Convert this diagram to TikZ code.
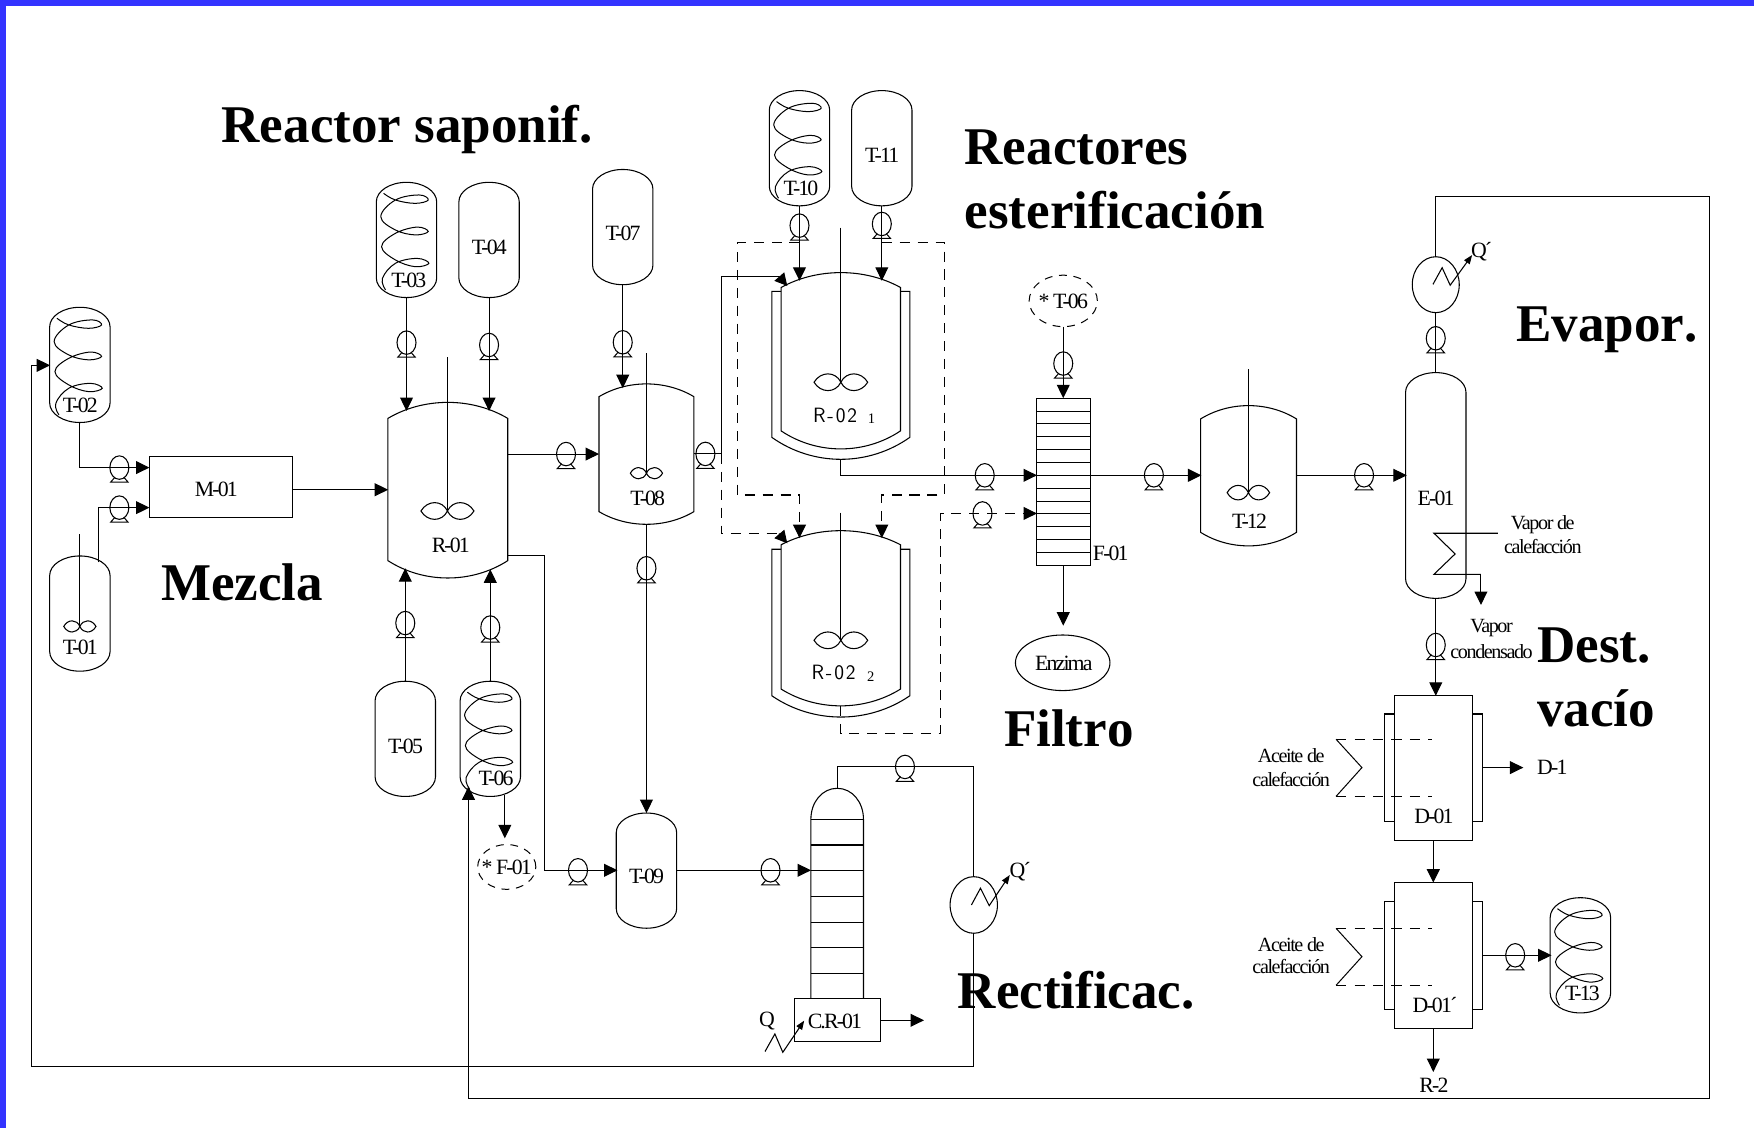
\documentclass[tikz,border=0pt]{standalone}
\usepackage{fontspec}
\setmainfont{Liberation Serif}
\usetikzlibrary{arrows.meta,shapes.geometric,calc}
\newfontfamily\labfam[LetterSpace=-8.5]{Liberation Serif}
\newfontfamily\smfam[LetterSpace=-7]{Liberation Serif}
\newfontfamily\titfam[Kerning=Off]{Liberation Serif}
\newfontfamily\cadfam[LetterSpace=9]{Latin Modern Sans}
\newcommand\labf{\labfam\fontsize{19.5}{20}\selectfont}
\newcommand\smf{\smfam\fontsize{18}{19}\selectfont}
\newcommand\titf{\titfam\bfseries\fontsize{47.4}{50}\selectfont}
\newcommand\cadf{\cadfam\fontsize{18.5}{20}\selectfont}
\definecolor{frameblue}{RGB}{51,51,255}
\tikzset{
 eqline/.style={draw=black,line width=.95pt},
 anchorbox/.style={rectangle,draw=none,inner sep=0pt,outer sep=0pt},
 pipe/.style={draw=black,line width=.95pt},
 pipeA/.style={pipe,-{Triangle[length=12pt,width=11.5pt]}},
 headA/.style={pipe,solid,-{Triangle[length=11pt,width=11.5pt]}},
 dashpipe/.style={pipe,dash pattern=on 9pt off 7pt},
 dashA/.style={dashpipe,-{Triangle[length=12pt,width=11.5pt]}},
 smallA/.style={pipe,-{Triangle[length=8pt,width=6pt]}},
 pumpn/.style={ellipse,draw=black,line width=.95pt,minimum width=17pt,minimum height=21pt,inner sep=0pt,outer sep=0pt},
 hx/.style={ellipse,draw=black,line width=.95pt,inner sep=0pt,outer sep=0pt},
 dashcirc/.style={ellipse,draw=black,line width=.9pt,dash pattern=on 7pt off 6pt,inner sep=0pt,outer sep=0pt},
 boxn/.style={rectangle,draw=black,line width=.95pt,inner sep=0pt,outer sep=0pt},
 lab/.style={font=\labf,inner sep=0pt,yshift=-.8pt},
 labs/.style={font=\smf,inner sep=0pt,yshift=-.8pt},
 cad/.style={font=\cadf,inner sep=0pt},
 tiny/.style={font=\rmfamily\fontsize{13}{14}\selectfont,inner sep=0pt},
 titlet/.style={font=\titf,inner sep=0pt,anchor=base west},
}
% capsule vessel: name, cx, top, w, h, cap
\newcommand\capsule[6]{%
 \pgfmathsetmacro\vxL{#2-#4/2}\pgfmathsetmacro\vxR{#2+#4/2}
 \pgfmathsetmacro\vyB{#3+#5}\pgfmathsetmacro\vyM{#3+#5/2}
 \pgfmathsetmacro\vkx{#4/2*0.5523}\pgfmathsetmacro\vky{#6*0.4477}
 \node[anchorbox,minimum width=#4pt,minimum height=#5pt] (#1) at (#2,\vyM) {};
 \draw[eqline] (\vxL,{#3+#6}) .. controls (\vxL,{#3+\vky}) and ({#2-\vkx},#3) .. (#2,#3)
  .. controls ({#2+\vkx},#3) and (\vxR,{#3+\vky}) .. (\vxR,{#3+#6})
  -- (\vxR,{\vyB-#6}) .. controls (\vxR,{\vyB-\vky}) and ({#2+\vkx},\vyB) .. (#2,\vyB)
  .. controls ({#2-\vkx},\vyB) and (\vxL,{\vyB-\vky}) .. (\vxL,{\vyB-#6}) -- cycle;
}
% dished reactor: name, xl, xr, apex, shoulderT, shoulderB, bottom
\newcommand\reactor[7]{%
 \pgfmathsetmacro\vw{#3-#2}\pgfmathsetmacro\vcx{(#2+#3)/2}\pgfmathsetmacro\vcy{(#4+#7)/2}
 \pgfmathsetmacro\vh{#7-#4}
 \pgfmathsetmacro\vtop{#5-(#5-#4)/0.75}\pgfmathsetmacro\vbot{#6+(#7-#6)/0.75}
 \node[anchorbox,minimum width=\vw pt,minimum height=\vh pt] (#1) at (\vcx,\vcy) {};
 \draw[eqline] (#2,#5) .. controls ({#2+.3*\vw},\vtop) and ({#3-.3*\vw},\vtop) .. (#3,#5)
  -- (#3,#6) .. controls ({#3-.3*\vw},\vbot) and ({#2+.3*\vw},\vbot) .. (#2,#6) -- cycle;
}
% shaft + impeller: cx, shaft top, cy, half width, half height
\newcommand\impeller[5]{%
 \draw[eqline] (#1,#2) -- (#1,#3);
 \draw[eqline] (#1,#3) .. controls ({#1+.2*#4},{#3-1.33*#5}) and ({#1+.75*#4},{#3-1.33*#5}) .. ({#1+#4},#3)
   .. controls ({#1+.75*#4},{#3+1.33*#5}) and ({#1+.2*#4},{#3+1.33*#5}) .. (#1,#3)
   .. controls ({#1-.2*#4},{#3-1.33*#5}) and ({#1-.75*#4},{#3-1.33*#5}) .. ({#1-#4},#3)
   .. controls ({#1-.75*#4},{#3+1.33*#5}) and ({#1-.2*#4},{#3+1.33*#5}) .. (#1,#3);
}
% pump: name, x, y
\newcommand\pump[3]{%
 \node[pumpn] (#1) at (#2,#3) {};
 \draw[eqline,line width=.9pt] ([xshift=-4pt,yshift=-8.7pt]#1.center) -- ([xshift=-7.8pt,yshift=-13pt]#1.center)
   -- ([xshift=7.8pt,yshift=-13pt]#1.center) -- ([xshift=4pt,yshift=-8.7pt]#1.center);
}
% coil inside a tank: cx, top
\newcommand\coil[2]{%
 \begin{scope}[shift={(#1,#2)}]
 \draw[eqline,line width=.9pt] plot[smooth,tension=.65] coordinates {(-20.5,9.8)(-9.9,15.8)(7.8,18.8)(19.4,15.8)(11.3,11.3)(-9.9,15.8)(-23,30.7)(-9.9,42.6)(7.8,47)(19.4,44)(9.5,40)(-9.9,45.6)(-22.3,57.5)(-9.9,69.4)(7.8,75.4)(20,72.4)(9.5,68)(-9.9,72.4)(-21.5,85.8)(-18.7,96.2)};
 \end{scope}
}
% jacket: xl, xr, inner xl, inner xr, top, shoulder, bottom
\newcommand\jacket[7]{%
 \pgfmathsetmacro\vw{#2-#1}\pgfmathsetmacro\vbot{#6+(#7-#6)/0.75}
 \draw[eqline] (#3,#5) -- (#1,#5) -- (#1,#6) .. controls ({#1+.3*\vw},\vbot) and ({#2-.3*\vw},\vbot) .. (#2,#6) -- (#2,#5) -- (#4,#5);
}
\begin{document}
\begin{tikzpicture}[x=1pt,y=-1pt]
\useasboundingbox (0,0) rectangle (1568,1008);
\fill[white] (0,0) rectangle (1568,1008);
\fill[frameblue] (0,0) rectangle (1568,5.2);
\fill[frameblue] (0,0) rectangle (5.4,1008);

% ---------- vessels ----------
\capsule{T02}{71.4}{274.7}{54}{103}{17.5}\coil{71.4}{274.7}
\capsule{T01}{71.4}{497}{54}{103}{17.5}
\capsule{T03}{363.4}{163}{54}{103}{17.5}\coil{363.4}{163}
\capsule{T04}{437.2}{163}{54}{103}{17.5}
\capsule{T05}{362.3}{609}{54}{103}{17.5}
\capsule{T06}{438.3}{609}{54}{103}{17.5}\coil{438.3}{609}
\capsule{T07}{556.7}{151.5}{54}{103}{17.5}
\capsule{T09}{577.9}{726.8}{54}{103}{17.5}
\capsule{T10}{714.7}{81}{54}{103}{17.5}\coil{714.7}{81}
\capsule{T11}{788.3}{81}{54}{103}{17.5}
\capsule{T13}{1412.8}{802.5}{54}{103}{17.5}\coil{1412.8}{802.5}
\capsule{E01}{1283.5}{333.1}{54}{201.8}{17.5}

\reactor{R01}{346.8}{453.9}{359.7}{374}{501.2}{516.7}
\impeller{400}{319.4}{456.8}{23.7}{7.5}
\reactor{T08}{535.5}{620.3}{343.2}{354.6}{457.4}{468.7}
\impeller{577.9}{315.8}{423}{14.4}{5}
\impeller{71.4}{477.4}{560}{14.4}{5}
\reactor{T12}{1073.3}{1159}{362.6}{374.5}{475.9}{488}
\impeller{1116}{329.9}{440.4}{19}{6.5}

\reactor{R021}{698.3}{805}{243.7}{257}{385.2}{401.3}
\jacket{690}{813.3}{698.3}{805}{260.4}{391}{410.6}
\impeller{751.7}{203.5}{341.7}{24}{7.5}
\reactor{R022}{698.3}{805}{474.4}{487}{616}{631}
\jacket{690}{813.3}{698.3}{805}{491}{622}{641}
\impeller{751.7}{458.3}{572.4}{24}{7.5}

\node[boxn,minimum width=128pt,minimum height=54.8pt] (M01) at (197.6,435.1) {};

% filter
\node[boxn,minimum width=47.9pt,minimum height=149.4pt] (F01) at (950.5,430.7) {};
\foreach \k in {1,...,12}{\draw[eqline] (926.5,{356+\k*11.49}) -- (974.4,{356+\k*11.49});}
\node[dashcirc,minimum width=61pt,minimum height=46pt] (sT06) at (950.5,269) {};
\node[lab] (lsT06) at (950.5,268.5) {* T-06};
\node[dashcirc,minimum width=52pt,minimum height=40pt] (sF01) at (453,775) {};
\node[lab] (lsF01) at (453,775) {* F-01};
\node[hx,minimum width=84.5pt,minimum height=49.7pt] (Enz) at (950,592.5) {};
\node[lab] (lEnz) at (951,592.5) {Enzima};

% column
\draw[eqline] (724.9,893) -- (724.9,732.4) .. controls (724.9,717) and (735,704.7) .. (748.4,704.7) .. controls (761.8,704.7) and (771.9,717) .. (771.9,732.4) -- (771.9,893);
\foreach \yy in {732.4,755.4,778.3,801.3,824.5,847.2,870.1}{\draw[eqline] (724.9,\yy) -- (771.9,\yy);}
\node[boxn,minimum width=77pt,minimum height=38.2pt] (CR01) at (748.5,912.1) {};

% distillers
\node[boxn,minimum width=70.1pt,minimum height=129.9pt] (D01) at (1281.3,686.3) {};
\node[boxn,minimum width=70.1pt,minimum height=130.3pt] (D02) at (1281.3,854.2) {};
\draw[eqline] (1246.2,638.3) -- (1237.7,638.3) -- (1237.7,734.2) -- (1246.2,734.2);
\draw[eqline] (1316.4,638.3) -- (1324.9,638.3) -- (1324.9,734.2) -- (1316.4,734.2);
\draw[eqline] (1246.2,806.3) -- (1237.7,806.3) -- (1237.7,902.3) -- (1246.2,902.3);
\draw[eqline] (1316.4,806.3) -- (1324.9,806.3) -- (1324.9,902.3) -- (1316.4,902.3);
\draw[eqline,line width=.9pt] (1194.4,660.9) -- (1217.5,686.2) -- (1194.4,711.9);
\draw[eqline,line width=.9pt] (1194.4,829.9) -- (1217.5,855.2) -- (1194.4,880.8);
\draw[eqline,line width=.9pt,dash pattern=on 9pt off 7.5pt] (1194.4,660.9) -- (1280.3,660.9);
\draw[eqline,line width=.9pt,dash pattern=on 9pt off 7.5pt] (1194.4,711.9) -- (1280.3,711.9);
\draw[eqline,line width=.9pt,dash pattern=on 9pt off 7.5pt] (1194.4,829.9) -- (1280.3,829.9);
\draw[eqline,line width=.9pt,dash pattern=on 9pt off 7.5pt] (1194.4,880.8) -- (1280.3,880.8);

% heat exchangers
\node[hx,minimum width=42.3pt,minimum height=50.6pt] (C1) at (870.5,809) {};
\node[hx,minimum width=42pt,minimum height=50pt] (C2) at (1283.5,254.5) {};

% ---------- pumps ----------
\pump{P02}{106.7}{418}
\pump{P01}{106.7}{453.8}
\pump{P03}{363.4}{306.3}
\pump{P04}{437.2}{308.4}
\pump{P05}{362.3}{557}
\pump{P06}{438.3}{561}
\pump{P08}{506}{405.9}
\pump{P09}{516.7}{778}
\pump{P07}{556.7}{306}
\pump{P10}{577.9}{508}
\pump{P11}{630.6}{405.8}
\pump{P12}{714.7}{201.7}
\pump{P13}{788.3}{200.2}
\pump{P14}{880.3}{424.9}
\pump{P15}{1031.5}{424.9}
\pump{P16}{878.3}{459}
\pump{P17}{950.5}{325}
\pump{P18}{1219.4}{424.9}
\pump{P19}{1283.5}{302.4}
\pump{P20}{809}{685.6}
\pump{P21}{688.8}{778}
\pump{P22}{1283.5}{576.6}
\pump{P23}{1354.5}{854}

% ---------- named connector points ----------
\coordinate (T01r) at (87.7,502.7);
\coordinate (M01a) at (133.6,418);
\coordinate (M01b) at (133.6,453.8);
\coordinate (M01c) at (261.6,437.8);
\coordinate (R01w) at (347,437.8);
\coordinate (R01t1) at (363.4,367.4);
\coordinate (R01t2) at (437.2,367.4);
\coordinate (R01b1) at (362.3,508);
\coordinate (R01b2) at (438.3,509);
\coordinate (R01e) at (453.9,405.9);
\coordinate (R01o) at (453.9,497);
\coordinate (Rc) at (486.8,778);
\coordinate (T08w) at (535.5,405.9);
\coordinate (T08n) at (556.7,347);
\coordinate (T08e) at (620.3,405.8);
\coordinate (T09w) at (552,778);
\coordinate (T09e) at (604.9,778);
\coordinate (J1) at (644.6,405.8);
\coordinate (R1k) at (696.4,247);
\coordinate (R1a) at (703.8,255.6);
\coordinate (R1b) at (714.7,251);
\coordinate (R1c) at (788.3,251);
\coordinate (R2k) at (696.4,477);
\coordinate (R2a) at (703.8,485.7);
\coordinate (R2b) at (714.7,481);
\coordinate (R2c) at (788.3,481);
\coordinate (D1) at (714.7,217);
\coordinate (D1c) at (659,442.5);
\coordinate (D1e) at (714.7,442.5);
\coordinate (D2) at (788.3,217);
\coordinate (D2c) at (844.4,442.5);
\coordinate (D2e) at (788.3,442.5);
\coordinate (R1j) at (751.7,410.6);
\coordinate (F01a) at (927,424.9);
\coordinate (F01b) at (927,459);
\coordinate (F01e) at (974.4,424.9);
\coordinate (T12w) at (1074,424.9);
\coordinate (T12e) at (1159,424.9);
\coordinate (E01w) at (1257.6,424.9);
\coordinate (R2j) at (751.7,631);
\coordinate (Dd) at (841,655.6);
\coordinate (Enzt) at (950.5,559.3);
\coordinate (Rt) at (1527.9,175.8);
\coordinate (Rb) at (418.8,982);
\coordinate (T06r) at (418.8,703);
\coordinate (Lb) at (28.3,953.8);
\coordinate (T02in) at (44.8,326.6);
\coordinate (ColT) at (748.4,704.7);
\coordinate (Cola) at (725,778);
\coordinate (CRo) at (826,912.1);
\coordinate (D01t) at (1283.5,622);
\coordinate (D01r) at (1324.9,686.2);
\coordinate (D1o) at (1361.8,686.2);
\coordinate (D02r) at (1324.9,854);
\coordinate (T13w) at (1387,854);
\coordinate (R2o) at (1281.3,958.3);
\coordinate (T06o) at (451.3,710.7);
\coordinate (F01t) at (451.3,749.4);

% ---------- connectors ----------
\draw[pipeA] (T02.south) |- (P02.center) -- (M01a);
\draw[pipeA] (T01r) |- (P01.center) -- (M01b);
\draw[pipeA] (M01c) -- (R01w);
\draw[pipeA] (T03.south) -- (P03.center) -- (R01t1);
\draw[pipeA] (T04.south) -- (P04.center) -- (R01t2);
\draw[pipeA] (T05.north) -- (P05.center) -- (R01b1);
\draw[pipeA] (T06.north) -- (P06.center) -- (R01b2);
\draw[pipeA] (R01e) -- (P08.center) -- (T08w);
\draw[pipeA] (R01o) -| (Rc) -- (P09.center) -- (T09w);
\draw[pipeA] (T07.south) -- (P07.center) -- (T08n);
\draw[pipeA] (T08.south) -- (P10.center) -- (T09.north);
\draw[pipe] (T08e) -- (P11.center) -- (J1);
\draw[pipe] (J1) |- (R1k);
\draw[headA] (R1k) -- (R1a);
\draw[dashpipe] (J1) |- (R2k);
\draw[headA] (R2k) -- (R2a);
\draw[pipeA] (T10.south) -- (P12.center) -- (R1b);
\draw[pipeA] (T11.south) -- (P13.center) -- (R1c);
\draw[dashA] (D1) -| (D1c) -- (D1e) -- (R2b);
\draw[dashA] (D2) -| (D2c) -- (D2e) -- (R2c);
\draw[pipeA] (R1j) |- (P14.center) -- (F01a);
\draw[pipeA] (F01e) -- (P15.center) -- (T12w);
\draw[dashA] (R2j) |- (Dd) |- (P16.center) -- (F01b);
\draw[pipeA] (sT06.south) -- (P17.center) -- (F01.north);
\draw[pipeA] (F01.south) -- (Enzt);
\draw[pipeA] (T12e) -- (P18.center) -- (E01w);
\draw[pipe] (E01.north) -- (P19.center) -- (C2.south);
\draw[pipeA] (C2.north) |- (Rt) |- (Rb) -- (T06r);
\draw[pipeA] (C1.south) |- (Lb) |- (T02in);
\draw[pipe] (ColT) |- (P20.center) -| (C1.north);
\draw[pipeA] (T09e) -- (P21.center) -- (Cola);
\draw[pipeA] (CR01.east) -- (CRo);
\draw[pipeA] (E01.south) -- (P22.center) -- (D01t);
\draw[pipeA] (D01.south) -- (D02.north);
\draw[pipeA] (D02.south) -- (R2o);
\draw[pipeA] (D01r) -- (D1o);
\draw[pipeA] (D02r) -- (P23.center) -- (T13w);
\draw[pipeA] (T06o) -- (F01t);

% heating coil in evaporator and zigzags
\draw[pipe] (1339,476.7) -- (1281.9,476.7) -- (1300.8,495.2) -- (1281.9,513.4) -- (1323.9,513.4);
\draw[pipeA] (1323.9,513.4) -- (1323.9,540.8);
\draw[smallA] (868.4,809) -- (876.5,794) -- (884.3,809.6) -- (902.7,782.2);
\draw[smallA] (1281,254.2) -- (1289.2,239.3) -- (1296.4,255) -- (1316,228);
\draw[smallA] (683.9,940) -- (692.7,924.3) -- (699.8,940.7) -- (718.9,912.4);

% ---------- labels ----------
\node[lab] (lT01) at (71.8,578) {T-01};
\node[lab] (lT02) at (71.8,362) {T-02};
\node[lab] (lT03) at (365.5,250) {T-03};
\node[lab] (lT04) at (437.5,220.5) {T-04};
\node[lab] (lT05) at (362.5,666) {T-05};
\node[lab] (lT06) at (443.5,695) {T-06};
\node[lab] (lT07) at (557,208) {T-07};
\node[lab] (lT08) at (579,444.5) {T-08};
\node[lab] (lT09) at (578,783) {T-09};
\node[lab] (lT10) at (716,167.7) {T-10};
\node[lab] (lT11) at (788.6,137.6) {T-11};
\node[lab] (lT12) at (1117,464.8) {T-12};
\node[lab] (lT13) at (1414.6,887.1) {T-13};
\node[lab] (lM01) at (193.4,437) {M-01};
\node[lab] (lR01) at (403,486.6) {R-01};
\node[lab] (lE01) at (1283.8,444.6) {E-01};
\node[lab] (lF01) at (993,494) {F-01};
\node[lab] (lD01) at (1281.9,729) {D-01};
\node[lab] (lD02) at (1282.8,897.8) {D-01´};
\node[lab] (lCR) at (746.4,912.4) {C.R-01};
\node[lab] (lD1) at (1387.7,684.8) {D-1};
\node[lab] (lR2) at (1281.9,969.3) {R-2};
\node[lab] (lQ) at (685.6,912.4) {Q};
\node[lab] (lQa) at (912,778) {Q´};
\node[lab] (lQb) at (1324.5,224) {Q´};
\node[cad] (lR021) at (746.5,371.5) {R-02};
\node[tiny] (lR021s) at (779,374.5) {1};
\node[cad] (lR022) at (745.2,601) {R-02};
\node[tiny] (lR022s) at (778.4,605) {2};
\node[labs] (lVa) at (1379.2,467.8) {Vapor de};
\node[labs] (lVb) at (1379.2,488) {calefacción};
\node[labs] (lVc) at (1333.4,560.8) {Vapor};
\node[labs] (lVd) at (1333.4,581.6) {condensado};
\node[labs] (lAa) at (1154.3,675) {Aceite de};
\node[labs] (lAb) at (1154.3,695.8) {calefacción};
\node[labs] (lAc) at (1154.3,843.9) {Aceite de};
\node[labs] (lAd) at (1154.3,863.5) {calefacción};

% ---------- titles ----------
\node[titlet] (t1) at (198,127) {Reactor saponif.};
\node[titlet] (t2) at (144,536.4) {Mezcla};
\node[titlet] (t3) at (862.2,147.5) {Reactores};
\node[titlet] (t4) at (862.2,204) {esterificación};
\node[titlet] (t5) at (1355.5,305) {Evapor.};
\node[titlet] (t6) at (1374,592) {Dest.};
\node[titlet] (t7) at (1374,649.5) {vacío};
\node[titlet] (t8) at (897.4,667.5) {Filtro};
\node[titlet] (t9) at (856,901.4) {Rectificac.};
\end{tikzpicture}
\end{document}
